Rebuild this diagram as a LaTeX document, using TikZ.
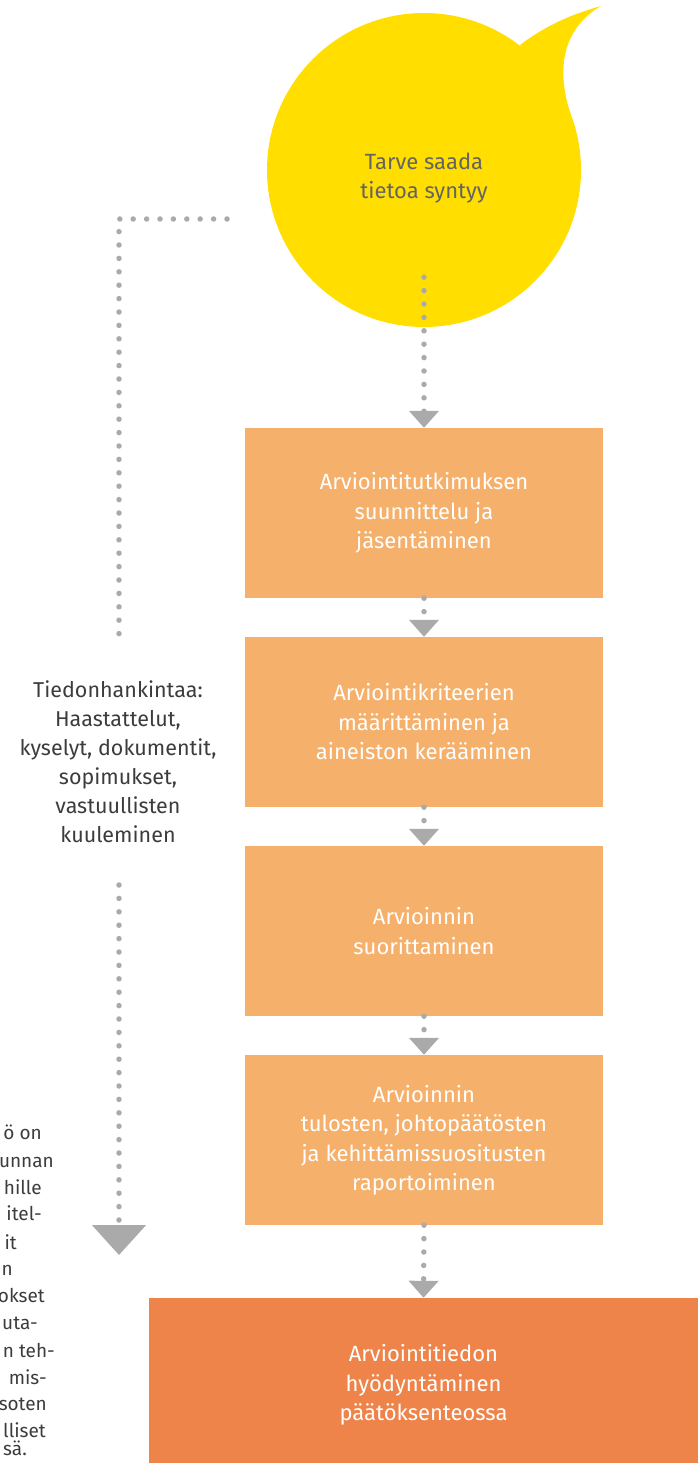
\documentclass[tikz,border=0pt]{standalone}
\usepackage{fontspec}
\setmainfont{Fira Sans}
\usetikzlibrary{arrows.meta}
\definecolor{needyellow}{RGB}{255,222,0}
\definecolor{phaseorange}{RGB}{245,176,107}
\definecolor{useorange}{RGB}{239,132,74}
\definecolor{dotgray}{RGB}{170,170,170}
\definecolor{needtext}{RGB}{100,100,100}
\definecolor{sidetext}{RGB}{60,60,60}
\tikzset{
	phase/.style={fill=phaseorange, text=white, minimum width=358pt, minimum height=170pt, inner sep=0pt, align=center, font=\fontsize{22}{29.5}\selectfont},
	dots/.style={dotgray, line width=5.5pt, line cap=round, dash pattern=on 0pt off 13.4pt},
	flow/.style={dots, -{Triangle[width=29pt,length=17pt]}},
	bigflow/.style={dots, -{Triangle[width=53pt,length=30pt]}},
}
\begin{document}
\begin{tikzpicture}[x=1pt,y=-1pt]
	\useasboundingbox (0,0) rectangle (698,1463);
	\clip (0,0) rectangle (698,1463);

	% Tarve saada tietoa
	\fill[needyellow] (520,45) .. controls (550,22) and (580,12) .. (601,6) .. controls (568,25) and (553,62) .. (571,115) -- cycle;
	\node[circle, fill=needyellow, minimum size=314pt, inner sep=0pt,
		label={[yshift=-8pt, text=needtext, align=center, font=\fontsize{22}{29.5}\selectfont]center:Tarve saada\\tietoa syntyy}] (need) at (424,170) {};

	% Vaiheet
	\node[phase] (plan) at (424,513) {Arviointitutkimuksen\\suunnittelu ja\\jäsentäminen};
	\node[phase] (criteria) at (424,722) {Arviointikriteerien\\määrittäminen ja\\aineiston kerääminen};
	\node[phase] (execute) at (424,931) {Arvioinnin\\suorittaminen};
	\node[phase] (report) at (424,1140) {Arvioinnin\\tulosten, johtopäätösten\\ja kehittämissuositusten\\raportoiminen};
	\node[phase, fill=useorange, minimum width=549pt, minimum height=174pt] (use) at (423.5,1385) {Arviointitiedon\\hyödyntäminen\\päätöksenteossa};

	\draw[flow] ([yshift=50pt]need.south) -- (plan.north);
	\draw[flow] (plan.south) -- (criteria.north);
	\draw[flow] (criteria.south) -- (execute.north);
	\draw[flow] (execute.south) -- (report.north);
	\draw[flow] (report.south) -- (use.north);

	% Tiedonhankinta
	\node[text=sidetext, align=center, font=\fontsize{21.5}{29}\selectfont] (info) at (118,762) {Tiedonhankintaa:\\Haastattelut,\\kyselyt, dokumentit,\\sopimukset,\\vastuullisten\\kuuleminen};
	\coordinate (infostart) at (227,219);
	\coordinate (infocorner) at (119,219);
	\coordinate (infoin) at (119,634);
	\coordinate (infoout) at (119,885);
	\coordinate (infoend) at (119,1255);
	\draw[dots] (infostart) -- (infocorner) -- (infoin);
	\draw[bigflow] (infoout) -- (infoend);

	% leikattu teksti
	\foreach \part/\xend/\ypos in {ö on/42/1137, unnan/54/1165, hille/42/1192, itel-/42/1218, it/17/1247, n/13/1273, okset/45/1300, uta-/38/1327, n teh-/55/1355, mis-/47/1382, soten/47/1408, lliset/46/1435, sä./27/1453}
		\node[text=sidetext, anchor=mid east, inner sep=0pt, font=\fontsize{19}{27}\selectfont] at (\xend,\ypos) {\part};
\end{tikzpicture}
\end{document}
